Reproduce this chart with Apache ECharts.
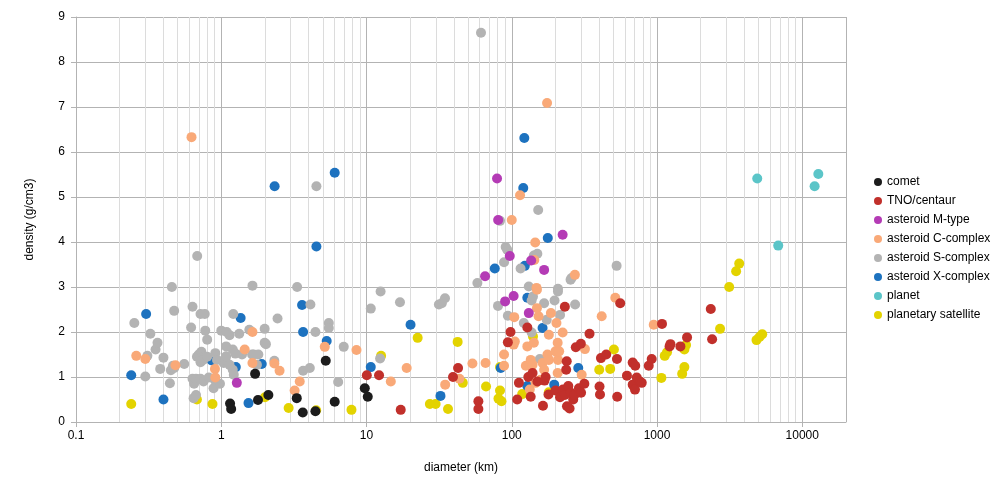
<!DOCTYPE html>
<html>
<head>
<meta charset="utf-8">
<script src="https://cdn.jsdelivr.net/npm/echarts@6/dist/echarts.min.js"></script>
<style>
html, body { margin: 0; padding: 0; background: #fff; }
#chart { width: 1004px; height: 494px; }
</style>
</head>
<body>
<div id="chart"></div>
<script>
// [diameter km, density g/cm3]
var comet = [[1.15,0.41],[1.17,0.29],[1.71,1.07],[1.79,0.49],[2.11,0.6],[3.31,0.53],[3.64,0.21],[4.45,0.24],[5.24,1.36],[6.04,0.45],[9.73,0.75],[10.2,0.56]];

var tno = [[10.05,1.04],[12.2,1.04],[17.2,0.27],[39.4,1.0],[42.7,1.2],[58.9,0.46],[58.9,0.29],[94,1.77],[98,2.0],[109,0.5],[112,0.87],[128,2.1],
    [130,1.0],[135,0.56],[139,1.09],[150,0.9],[164,0.36],[168,0.92],[171,1.0],[179,0.61],[200,0.7],[215,0.55],[225,0.72],[232,2.56],[232,0.6],
    [237,1.16],[239,1.35],[240,0.35],[245,0.8],[250,0.3],[255,0.65],[265,0.5],[270,0.6],[276,1.66],[290,0.75],[299,1.74],[300,0.65],[316,0.85],
    [343,1.96],[402,0.79],[405,0.61],[411,1.42],[447,1.5],[530,1.4],[532,0.56],[558,2.64],[621,1.03],[680,1.32],[680,0.83],[690,0.81],[705,0.72],
    [708,1.25],[725,0.99],[763,0.9],[785,0.87],[877,1.25],[919,1.4],[1082,2.18],[1220,1.68],[1237,1.73],[1449,1.68],[1610,1.88],[2345,2.51],[2395,1.84]];

var mType = [[1.28,0.87],[65.5,3.24],[79.2,5.41],[80.6,4.49],[90,2.68],[96.9,3.69],[103,2.8],[131,2.42],[136,3.59],[167,3.38],[224,4.16]];

var cComplex = [[0.26,1.47],[0.30,1.4],[0.484,1.26],[0.624,6.33],[0.905,1.18],[0.91,0.99],[1.45,1.61],[1.64,2.0],[1.64,1.31],[2.32,1.3],[2.52,1.14],
    [3.2,0.7],[3.47,0.9],[5.16,1.67],[8.53,1.6],[14.7,0.9],[18.9,1.2],[34.8,0.83],[43.6,0.96],[53.6,1.3],[66,1.31],[88.5,1.5],[88.5,1.25],[100,4.49],
    [103,1.72],[104,2.33],[105,1.79],[114,5.04],[125,1.25],[128,1.68],[133,0.72],[135,1.38],[139,1.27],[142,1.76],[143,3.6],[145,3.99],[146,0.87],
    [148,2.98],[149,2.94],[149,2.53],[153,2.35],[158,0.94],[163,1.31],[167,1.16],[175,7.09],[176,1.5],[180,1.38],[180,1.94],[186,2.42],[200,1.57],
    [203,2.2],[207,1.76],[207,1.09],[208,1.38],[212,1.57],[224,1.99],[272,3.27],[303,1.05],[319,1.62],[416,2.35],[516,2.76],[949,2.16]];

var sComplex = [[0.252,2.2],[0.30,1.01],[0.31,1.47],[0.325,1.96],[0.353,1.61],[0.364,1.76],[0.38,1.18],[0.40,1.43],[0.443,0.86],[0.45,1.15],
    [0.457,3.0],[0.465,1.25],[0.474,2.47],[0.474,1.2],[0.556,1.29],[0.62,2.1],[0.634,2.56],[0.634,0.96],[0.645,0.53],[0.65,0.85],[0.67,0.96],
    [0.67,0.6],[0.683,3.69],[0.68,1.45],[0.70,1.5],[0.72,2.4],[0.72,0.96],[0.72,1.33],[0.73,1.56],[0.75,1.45],[0.75,1.38],[0.755,0.9],[0.77,2.4],
    [0.776,2.03],[0.80,1.83],[0.8,1.45],[0.82,0.99],[0.885,0.75],[0.9,0.94],[0.91,1.53],[0.935,1.38],[0.98,0.85],[1.0,2.03],[1.04,1.31],[1.07,1.38],
    [1.08,1.68],[1.08,1.46],[1.09,2.0],[1.14,1.93],[1.14,1.27],[1.2,1.61],[1.2,1.16],[1.21,2.4],[1.22,1.05],[1.25,1.52],[1.33,1.96],[1.39,1.5],
    [1.56,2.05],[1.63,1.5],[1.64,3.03],[1.67,1.5],[1.76,1.27],[1.8,1.5],[1.99,2.07],[1.99,1.76],[2.03,1.73],[2.32,1.36],[2.44,2.3],[3.33,3.0],
    [3.66,1.14],[4.07,1.2],[4.11,2.61],[4.45,2.0],[4.52,5.24],[5.5,2.2],[5.5,2.09],[6.38,0.89],[6.97,1.67],[10.7,2.52],[12.4,1.41],[12.5,2.9],
    [17,2.66],[31.5,2.61],[33,2.64],[34.7,2.75],[58,3.09],[61.4,8.65],[80.4,2.58],[83,4.47],[88.5,3.55],[90.8,3.89],[93,3.83],[94,2.36],[115,3.41],
    [121,2.2],[131,3.01],[137,2.7],[137,1.99],[140,2.79],[142,3.7],[150,3.74],[152,4.71],[156,1.4],[167,2.64],[174,2.27],[197,2.7],[208,2.96],
    [208,2.9],[215,2.38],[254,3.16],[258,3.2],[273,2.61],[527,3.47]];

var xComplex = [[0.24,1.04],[0.304,2.4],[0.40,0.5],[0.86,1.37],[1.26,1.22],[1.36,2.31],[1.54,0.42],[1.9,1.29],[2.33,5.24],[3.6,2.6],[3.66,2.0],
    [4.52,3.9],[5.32,1.8],[6.04,5.54],[10.7,1.22],[20.1,2.16],[32.3,0.58],[76.4,3.41],[84,1.2],[120,5.2],[122,6.31],[123,3.47],[128,2.76],
    [128,0.8],[163,2.09],[177,4.09],[196,0.83],[287,1.2]];

var planet = [[4898,5.41],[12160,5.24],[12900,5.51],[6830,3.92]];

var satellite = [[0.24,0.4],[0.68,0.5],[0.87,0.4],[2.0,0.55],[2.91,0.31],[4.5,0.26],[7.88,0.27],[12.6,1.47],[22.5,1.87],[27.3,0.4],[29.9,0.4],
    [36.4,0.29],[42.4,1.78],[46,0.87],[66.5,0.79],[83,1.22],[83,0.7],[81,0.52],[85,0.46],[118,0.62],[140,1.9],[180,0.66],[400,1.16],[476,1.18],
    [505,1.61],[1071,0.98],[1130,1.47],[1172,1.55],[1490,1.07],[1543,1.22],[1543,1.61],[1585,1.71],[2717,2.07],[3140,3.0],[3505,3.35],[3680,3.52],
    [4840,1.82],[5080,1.89],[5300,1.95]];

var names = ['comet', 'TNO/centaur', 'asteroid M-type', 'asteroid C-complex', 'asteroid S-complex', 'asteroid X-complex', 'planet', 'planetary satellite'];
var colors = ['#1c1c1c', '#c1302b', '#b43bb5', '#f9a978', '#b3b3b3', '#1d72bf', '#5bc5c8', '#e3d300'];
var sets = [comet, tno, mType, cComplex, sComplex, xComplex, planet, satellite];

// light grid lines at 2..9 of every decade
var minorTicks = [];
[0.1, 1, 10, 100, 1000, 10000].forEach(function (d) {
    for (var k = 2; k <= 9; k++) minorTicks.push(+(d * k).toPrecision(3));
});

var font = "'Liberation Sans', Arial, sans-serif";
var chart = echarts.init(document.getElementById('chart'));

var series = [];
for (var i = 0; i < names.length; i++) {
    series.push({
        name: names[i],
        type: 'scatter',
        xAxisIndex: 0,
        symbol: 'circle',
        symbolSize: 10,
        z: 20 - i,
        itemStyle: { color: colors[i], opacity: 1 },
        data: sets[i]
    });
}

chart.setOption({
    animation: false,
    backgroundColor: '#fff',
    grid: { left: 76, right: 158, top: 17, bottom: 72 },
    legend: {
        orient: 'vertical',
        left: 869,
        top: 171,
        icon: 'circle',
        itemWidth: 8,
        itemHeight: 8,
        itemGap: 7,
        textStyle: { fontFamily: font, fontSize: 12, color: '#000' },
        data: names
    },
    xAxis: [{
        type: 'log',
        logBase: 10,
        min: 0.1,
        max: 20000,
        z: 1,
        name: 'diameter (km)',
        nameLocation: 'middle',
        nameGap: 40,
        nameTextStyle: { fontFamily: font, fontSize: 12, color: '#000' },
        axisLine: { lineStyle: { color: '#b3b3b3' } },
        axisTick: { show: true, length: 5, lineStyle: { color: '#b3b3b3' } },
        axisLabel: {
            fontFamily: font, fontSize: 12, color: '#000', margin: 8,
            showMaxLabel: false,
            formatter: function (v) { return String(v); }
        },
        splitLine: { show: true, lineStyle: { color: '#b3b3b3', width: 1 } }
    }, {
        type: 'log',
        logBase: 10,
        min: 0.1,
        max: 20000,
        z: 0,
        axisLine: { show: false },
        axisTick: { show: false, customValues: minorTicks },
        axisLabel: { show: false },
        splitLine: { show: true, lineStyle: { color: '#dcdcdc', width: 1 } }
    }],
    yAxis: {
        type: 'value',
        min: 0,
        max: 9,
        interval: 1,
        name: 'density (g/cm3)',
        nameLocation: 'middle',
        nameGap: 40,
        nameRotate: 90,
        nameTextStyle: { fontFamily: font, fontSize: 12, color: '#000' },
        axisLine: { show: true, lineStyle: { color: '#b3b3b3' } },
        axisTick: { show: true, length: 5, lineStyle: { color: '#b3b3b3' } },
        axisLabel: { fontFamily: font, fontSize: 12, color: '#000', margin: 11 },
        splitLine: { show: true, lineStyle: { color: '#b3b3b3', width: 1 } }
    },
    series: series
});
</script>
</body>
</html>
